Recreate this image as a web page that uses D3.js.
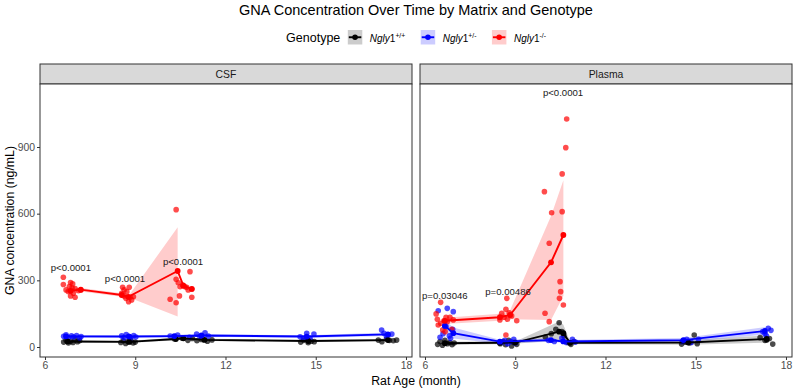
<!DOCTYPE html>
<html>
<head>
<meta charset="utf-8">
<script src="https://cdn.jsdelivr.net/npm/d3@7"></script>
<style>
  body { margin: 0; background: #fff; }
  text { font-family: "Liberation Sans", Arial, sans-serif; }
</style>
</head>
<body>
<div id="chart"></div>
<script>
// data
const matrices = ["CSF", "Plasma"];
const genotypes = ["+/+", "+/-", "-/-"];
const xTicks = [6, 9, 12, 15, 18];
const yTicks = [0, 300, 600, 900];

// individual animals: [age (month), GNA ng/mL]
const csfWT = [[6.62,22],[6.7,30],[6.78,18],[6.85,26],[6.93,20],[7.0,33],[7.08,24],[7.15,28],
  [8.52,20],[8.6,28],[8.68,16],[8.76,24],[8.85,30],[8.93,18],[9.0,22],
  [10.3,36],[10.55,40],[10.75,30],[10.9,38],[11.05,28],[11.2,34],[11.4,26],[11.55,32],
  [14.5,22],[14.6,30],[14.75,19],[14.85,26],[14.95,24],
  [17.08,31],[17.2,24],[17.35,36],[17.45,30],[17.58,28],[17.69,31]];
const csfHet = [[6.62,48],[6.7,55],[6.78,42],[6.88,50],[6.95,45],[7.05,52],[7.15,40],[7.2,47],
  [8.55,50],[8.63,42],[8.7,56],[8.78,48],[8.85,40],[8.95,52],[9.02,45],
  [10.16,49],[10.41,54],[10.8,44],[11.04,58],[11.15,46],[11.32,64],[11.43,49],
  [14.48,46],[14.59,39],[14.7,62],[14.81,39],[14.94,58],
  [17.19,76],[17.27,62],[17.41,54],[17.53,58],[17.35,48]];
const csfKO = [[6.61,314],[6.61,281],[6.85,290],[6.92,284],[6.81,272],[6.9,266],[7.0,263],[6.7,257],
  [6.77,250],[6.85,230],[7.0,224],[6.94,242],[7.11,253],[7.19,256],
  [8.58,269],[8.63,257],[8.8,269],[8.72,249],[8.55,242],[8.63,230],[8.69,219],[8.83,224],
  [8.94,226],[8.78,204],[8.88,212],
  [10.36,618],[10.82,339],[10.36,305],[10.43,289],[10.49,271],[10.58,279],[10.65,271],
  [10.71,269],[10.76,257],[10.88,260],[10.88,224],[10.16,215],[10.47,230],[10.36,199]];
const plasmaWT = [[6.42,12],[6.5,25],[6.58,8],[6.66,30],[6.74,15],[6.82,20],[6.9,10],[6.97,18],
  [8.5,15],[8.6,25],[8.68,10],[8.78,30],[8.88,5],[8.95,20],[9.05,12],
  [10.0,45],[10.2,60],[10.35,80],[10.46,109],[10.55,70],[10.62,50],[10.75,20],[10.85,12],[10.95,25],
  [14.53,13],[14.65,22],[14.8,18],[14.95,54],[15.05,15],
  [17.14,42],[17.3,30],[17.36,31],[17.45,38],[17.56,13]];
const plasmaHet = [[6.44,163],[6.74,174],[6.94,159],[6.7,91],[6.92,80],[6.81,50],[6.5,44],[6.85,39],[6.6,60],
  [8.55,20],[8.65,30],[8.75,15],[8.85,25],[8.95,35],[9.0,18],
  [10.1,30],[10.3,25],[10.55,40],[10.7,20],[10.9,35],[11.0,22],
  [14.55,25],[14.7,35],[14.85,20],[15.09,35],
  [17.23,69],[17.3,60],[17.41,84],[17.5,75],[17.35,50]];
const plasmaKO = [[6.52,201],[6.37,149],[6.7,134],[6.63,118],[6.41,125],[6.83,134],[6.74,114],[6.94,122],
  [6.44,99],[6.59,77],[6.67,69],[6.89,80],[6.52,107],
  [8.72,219],[8.69,170],[8.55,152],[8.8,154],[8.63,134],[8.49,122],[8.88,140],[9.05,118],[8.74,125],[8.69,54],
  [10.71,1026],[10.68,897],[10.56,779],[9.97,699],[10.21,604],[10.56,609],[10.13,467],[10.49,294],
  [10.51,249],[10.47,219],[10.6,189],[9.99,152],[10.13,114]];

// summary: [age, mean, lower, upper]
const csfWTMean = [[6.75,25,19,31],[8.8,23,18,28],[10.35,36,30,42],[10.6,39,33,45],[11.3,32,27,37],[14.75,27,22,32],[17.4,31,26,36]];
const csfHetMean = [[6.7,48,42,54],[8.8,47,42,52],[10.3,49,43,55],[11.2,52,46,58],[14.7,47,41,53],[17.4,57,49,65]];
const csfKOMean = [[6.85,253,240,266],[7.19,258,250,266],[8.55,234,226,242],[8.77,226,224,228],[10.41,342,137,539],[10.6,276,null,null],[10.88,262,null,null]];
const plasmaWTMean = [[6.66,17,10,24],[8.49,19,12,26],[9.0,20,15,25],[10.46,69,30,115],[10.6,62,25,100],[10.82,19,12,26],[14.75,20,10,30],[17.36,36,20,52]];
const plasmaHetMean = [[6.66,95,70,122],[6.94,62,38,88],[8.49,24,15,33],[10.19,31,24,38],[10.6,25,18,32],[14.59,31,22,40],[17.3,72,55,90]];
const plasmaKOMean = [[6.66,118,104,132],[8.49,134,118,150],[8.83,144,125,165],[10.19,381,121,590],[10.6,504,230,750]];

// p-value annotations: [matrix, age, value, label]
const pLabels = [["CSF",6.86,342,"p<0.0001"],["CSF",8.66,292,"p<0.0001"],["CSF",10.59,369,"p<0.0001"],
  ["Plasma",6.66,216,"p=0.03046"],["Plasma",8.76,234,"p=0.00486"],["Plasma",10.59,1130,"p<0.0001"]];

const series = [
  {matrix: "CSF", geno: "+/+", pts: csfWT, mean: csfWTMean},
  {matrix: "CSF", geno: "+/-", pts: csfHet, mean: csfHetMean},
  {matrix: "CSF", geno: "-/-", pts: csfKO, mean: csfKOMean},
  {matrix: "Plasma", geno: "+/+", pts: plasmaWT, mean: plasmaWTMean},
  {matrix: "Plasma", geno: "+/-", pts: plasmaHet, mean: plasmaHetMean},
  {matrix: "Plasma", geno: "-/-", pts: plasmaKO, mean: plasmaKOMean}
];

const color = {"+/+": "#000000", "+/-": "#0000FF", "-/-": "#FF0000"};

const W = 794, H = 391;
const panelTop = 84, panelBottom = 357, stripH = 20;
const panelX = {"CSF": 40, "Plasma": 420}, panelW = 372;
const panelH = panelBottom - panelTop;
const tickFont = "10.4px";

const svg = d3.select("#chart").append("svg")
  .attr("width", W).attr("height", H);

const x = d3.scaleLinear().domain([5.834, 18.2]).range([0, panelW]);
const y = d3.scaleLinear().domain([-45, 1183.5]).range([panelH, 0]);

// title
svg.append("text")
  .attr("x", 416).attr("y", 15)
  .attr("text-anchor", "middle")
  .style("font-size", "14.5px").attr("fill", "#000")
  .text("GNA Concentration Over Time by Matrix and Genotype");

// legend
const legend = svg.append("g");
let lx = 0;
legend.append("text").attr("x", 0).attr("y", 42)
  .style("font-size", "12.5px").text("Genotype")
  .each(function() { lx = this.getComputedTextLength() + 7.5; });
genotypes.forEach((g, i) => {
  const kg = legend.append("g").attr("transform", `translate(${lx},30)`);
  kg.append("rect").attr("width", 14.5).attr("height", 14.5)
    .attr("fill", color[g]).attr("fill-opacity", 0.2);
  kg.append("line").attr("x1", 1).attr("x2", 13.5).attr("y1", 7.25).attr("y2", 7.25)
    .attr("stroke", color[g]).attr("stroke-width", 1.9);
  kg.append("circle").attr("cx", 7.25).attr("cy", 7.25).attr("r", 2.8).attr("fill", color[g]);
  const t = legend.append("text").attr("x", lx + 22).attr("y", 41.5)
    .style("font-size", "10px");
  t.append("tspan").style("font-style", "italic").text("Ngly");
  t.append("tspan").text("1");
  t.append("tspan").attr("dy", -4).style("font-size", "6.8px").text(g);
  lx += 22 + t.node().getComputedTextLength() + 15.5;
});
const lw = lx - 15.5;
legend.attr("transform", `translate(${416 - lw / 2},0)`);

// panels
matrices.forEach(m => {
  const px = panelX[m];

  // strip
  svg.append("rect")
    .attr("x", px).attr("y", panelTop - stripH)
    .attr("width", panelW).attr("height", stripH)
    .attr("fill", "#d9d9d9").attr("stroke", "#333333").attr("stroke-width", 1);
  svg.append("text")
    .attr("x", px + panelW / 2).attr("y", panelTop - stripH / 2 + 3.7)
    .attr("text-anchor", "middle").style("font-size", tickFont).attr("fill", "#1a1a1a")
    .text(m);

  const g = svg.append("g").attr("transform", `translate(${px},${panelTop})`);
  g.append("rect").attr("width", panelW).attr("height", panelH).attr("fill", "#fff");

  const ss = series.filter(s => s.matrix === m);

  // ribbons
  ss.forEach(s => {
    g.append("path")
      .datum(s.mean)
      .attr("fill", color[s.geno]).attr("fill-opacity", 0.2)
      .attr("d", d3.area()
        .defined(d => d[2] != null)
        .x(d => x(d[0]))
        .y0(d => y(d[2]))
        .y1(d => y(d[3])));
  });

  // individual points
  ss.forEach(s => {
    g.selectAll(null).data(s.pts).join("circle")
      .attr("cx", d => x(d[0])).attr("cy", d => y(d[1]))
      .attr("r", 2.8)
      .attr("fill", color[s.geno]).attr("fill-opacity", 0.7);
  });

  // mean lines + points
  ss.forEach(s => {
    g.append("path").datum(s.mean)
      .attr("fill", "none").attr("stroke", color[s.geno]).attr("stroke-width", 1.9)
      .attr("d", d3.line().x(d => x(d[0])).y(d => y(d[1])));
    g.selectAll(null).data(s.mean).join("circle")
      .attr("cx", d => x(d[0])).attr("cy", d => y(d[1]))
      .attr("r", 2.9).attr("fill", color[s.geno]);
  });

  // p labels
  g.selectAll(null).data(pLabels.filter(p => p[0] === m)).join("text")
    .attr("x", d => x(d[1])).attr("y", d => y(d[2]))
    .attr("text-anchor", "middle").style("font-size", "9.6px").attr("fill", "#1a1a1a")
    .text(d => d[3]);

  g.append("rect").attr("width", panelW).attr("height", panelH)
    .attr("fill", "none").attr("stroke", "#333333").attr("stroke-width", 1);

  // x axis
  const xa = g.append("g").attr("transform", `translate(0,${panelH})`)
    .call(d3.axisBottom(x).tickValues(xTicks).tickSize(3).tickPadding(2));
  xa.select(".domain").remove();
  xa.selectAll("line").attr("stroke", "#333333");
  xa.selectAll("text").attr("fill", "#4d4d4d").style("font-size", tickFont)
    .style("font-family", "'Liberation Sans', Arial, sans-serif");

  if (m === "CSF") {
    const ya = g.append("g")
      .call(d3.axisLeft(y).tickValues(yTicks).tickSize(3).tickPadding(2));
    ya.select(".domain").remove();
    ya.selectAll("line").attr("stroke", "#333333");
    ya.selectAll("text").attr("fill", "#4d4d4d").style("font-size", tickFont)
      .style("font-family", "'Liberation Sans', Arial, sans-serif");
  }
});

// axis titles
svg.append("text")
  .attr("x", 416).attr("y", 385)
  .attr("text-anchor", "middle").style("font-size", "12.3px")
  .text("Rat Age (month)");
svg.append("text")
  .attr("transform", `translate(14,${(panelTop + panelBottom) / 2}) rotate(-90)`)
  .attr("text-anchor", "middle").style("font-size", "12.3px")
  .text("GNA concentration (ng/mL)");
</script>
</body>
</html>
